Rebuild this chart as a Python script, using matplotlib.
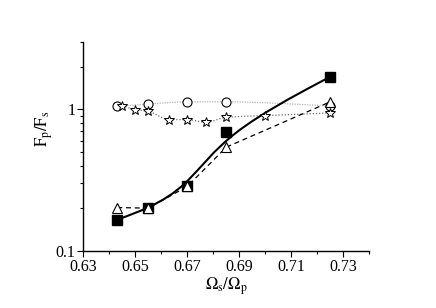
import numpy as np
import matplotlib
matplotlib.use('Agg')
import matplotlib.pyplot as plt
from matplotlib.path import Path
from matplotlib.patches import PathPatch

plt.rcParams['font.family'] = ['Liberation Serif', 'DejaVu Serif']
plt.rcParams['mathtext.fontset'] = 'stix'

# data
sq_x = [0.643, 0.655, 0.670, 0.685, 0.725]
sq_y = [0.166, 0.199, 0.285, 0.69, 1.70]

tri_x = [0.643, 0.655, 0.670, 0.685, 0.725]
tri_y = [0.202, 0.200, 0.285, 0.54, 1.13]

circ_x = [0.643, 0.655, 0.670, 0.685, 0.725]
circ_y = [1.05, 1.09, 1.13, 1.13, 1.06]

star_x = [0.645, 0.650, 0.655, 0.663, 0.670, 0.677, 0.685, 0.700, 0.725]
star_y = [1.06, 0.995, 0.967, 0.846, 0.846, 0.81, 0.878, 0.903, 0.943]

x_ticks = [0.63, 0.65, 0.67, 0.69, 0.71, 0.73]


# 부드러운 곡선 (monotone cubic -> bezier), log y 공간에서 계산
def smooth_path(xs, ys):
    px = np.array(xs, dtype=float)
    py = np.log10(np.array(ys, dtype=float))
    h = np.diff(px)
    d = np.diff(py) / h
    n = len(px)
    m = np.zeros(n)
    m[0], m[-1] = d[0], d[-1]
    for i in range(1, n - 1):
        if d[i - 1] * d[i] <= 0:
            m[i] = 0
        else:
            w1 = 2 * h[i] + h[i - 1]
            w2 = h[i] + 2 * h[i - 1]
            m[i] = (w1 + w2) / (w1 / d[i - 1] + w2 / d[i])
    verts = [(px[0], py[0])]
    codes = [Path.MOVETO]
    for i in range(n - 1):
        c1 = (px[i] + h[i] / 3, py[i] + m[i] * h[i] / 3)
        c2 = (px[i + 1] - h[i] / 3, py[i + 1] - m[i + 1] * h[i] / 3)
        verts += [c1, c2, (px[i + 1], py[i + 1])]
        codes += [Path.CURVE4] * 3
    verts = [(vx, 10 ** vy) for vx, vy in verts]
    return Path(verts, codes)


# B-spline (데이터 점 = control point), 끝점 고정
def bspline_path(xs, ys):
    P = np.column_stack([np.array(xs, dtype=float), np.log10(np.array(ys, dtype=float))])
    P = np.vstack([P[0], P[0], P, P[-1], P[-1]])
    verts, codes = [], []
    for i in range(len(P) - 3):
        b0, b1, b2, b3 = P[i], P[i + 1], P[i + 2], P[i + 3]
        s = (b0 + 4 * b1 + b2) / 6
        if i == 0:
            verts.append(s)
            codes.append(Path.MOVETO)
        verts += [(2 * b1 + b2) / 3, (b1 + 2 * b2) / 3, (b1 + 4 * b2 + b3) / 6]
        codes += [Path.CURVE4] * 3
    verts = [(vx, 10 ** vy) for vx, vy in verts]
    return Path(verts, codes)


fig = plt.figure(figsize=(4.36, 3.08), dpi=100)
ax = fig.add_axes([0.1915, 0.186, 0.655, 0.678])

ax.add_patch(PathPatch(smooth_path(circ_x, circ_y), fill=False, color='#b5b5b5',
                       lw=0.9, ls=(0, (1, 1))))
ax.add_patch(PathPatch(smooth_path(star_x, star_y), fill=False, color='#707070',
                       lw=0.9, ls=(0, (1, 1.5))))
ax.plot(tri_x, tri_y, color='black', lw=0.9, ls=(0, (4, 3)))
ax.add_patch(PathPatch(bspline_path(sq_x, sq_y), fill=False, color='black', lw=1.5))

ax.plot(circ_x, circ_y, ls='none', marker='o', ms=6.5, mfc='white', mec='black', mew=0.8)
ax.plot(star_x, star_y, ls='none', marker='*', ms=7.5, mfc='white', mec='black', mew=0.7)
ax.plot(sq_x, sq_y, ls='none', marker='s', ms=7.5, mfc='black', mec='black')
ax.plot(tri_x, tri_y, ls='none', marker='^', ms=6.5, mfc='white', mec='black', mew=0.8)

ax.set_yscale('log')
ax.set_xlim(0.63, 0.74)
ax.set_ylim(0.1, 3)
ax.set_xticks(x_ticks)
ax.set_xticklabels(['%.2f' % t for t in x_ticks])
ax.set_xticks(np.arange(0.64, 0.745, 0.02), minor=True)
ax.set_yticks([0.1, 1])
ax.set_yticklabels(['0.1', '1'])

for s in ['top', 'right']:
    ax.spines[s].set_visible(False)
ax.spines['left'].set_linewidth(1.0)
ax.spines['bottom'].set_linewidth(1.0)
ax.tick_params(which='major', direction='out', length=4, width=0.8, labelsize=11.5, pad=2)
ax.tick_params(which='minor', direction='out', length=2.5, width=0.8)

ax.set_xlabel(r'$\Omega_\mathrm{s}/\Omega_\mathrm{p}$', fontsize=12, labelpad=0)
ax.set_ylabel(r'$\mathrm{F_p/F_s}$', fontsize=12)
ax.yaxis.set_label_coords(-0.10, 0.585)

fig.savefig('out.png', dpi=100)
